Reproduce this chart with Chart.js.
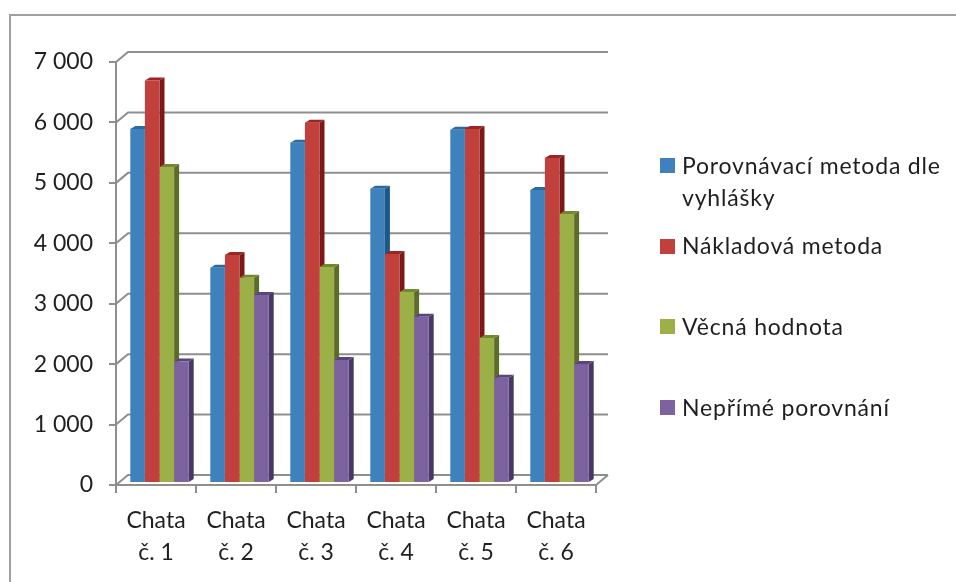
<!DOCTYPE html>
<html>
<head>
<meta charset="utf-8">
<title>Chaty</title>
<script src="https://cdn.jsdelivr.net/npm/chart.js@4/dist/chart.umd.min.js"></script>
<style>
html, body { margin: 0; padding: 0; background: #fff; }
#wrap { position: absolute; left: 0; top: 0; width: 956px; height: 582px; }
</style>
</head>
<body>
<div id="wrap"><canvas id="chart" width="956" height="582"></canvas></div>
<script>
// ---------------- Data ----------------
const categories = [["Chata", "č. 1"], ["Chata", "č. 2"], ["Chata", "č. 3"], ["Chata", "č. 4"], ["Chata", "č. 5"], ["Chata", "č. 6"]];
const porovnavaci = [5860, 3560, 5630, 4870, 5845, 4850];
const nakladova = [6660, 3775, 5960, 3790, 5860, 5380];
const vecna = [5230, 3395, 3575, 3160, 2400, 4450];
const neprime = [2010, 3110, 2035, 2750, 1740, 1970];

const seriesNames = ["Porovnávací metoda dle vyhlášky", "Nákladová metoda", "Věcná hodnota", "Nepřímé porovnání"];
const faceColors = ["#3f81bd", "#c2403c", "#9bb047", "#7d62a0"];
const sideColors = ["#1d5787", "#7b1918", "#5c6c2a", "#493764"];
const topColors = ["#2a6a9e", "#9a2522", "#74882f", "#5a4578"];

// ---------------- 3D look ----------------
const FONT = "Lato, sans-serif";
const TEXT = "#1f1f1f";
const GRID = "#8e8e8e";
const WALL_X = 12, WALL_Y = -10;   // depth of the back wall
const BAR_X = 3.5, BAR_Y = -2;     // bars stand a bit inside the floor
const SIDE_X = 5, SIDE_Y = -3;     // depth of a bar

const legendRows = [
    { swatch: 158, lines: [["Porovnávací metoda dle", 174], ["vyhlášky", 206]] },
    { swatch: 239, lines: [["Nákladová metoda", 254]] },
    { swatch: 319, lines: [["Věcná hodnota", 335]] },
    { swatch: 400, lines: [["Nepřímé porovnání", 416]] }
];

const backdrop = {
    id: "backdrop",
    beforeDraw(chart) {
        const { ctx, width, height } = chart;
        ctx.save();
        ctx.fillStyle = "#fff";
        ctx.fillRect(0, 0, width, height);
        // frame only shows on the top and left
        ctx.strokeStyle = "#a0a0a0";
        ctx.lineWidth = 2;
        ctx.beginPath();
        ctx.moveTo(10, height);
        ctx.lineTo(10, 15);
        ctx.lineTo(width, 15);
        ctx.stroke();
        ctx.restore();
    },
    // back wall lines and floor
    beforeDatasetsDraw(chart) {
        const { ctx, chartArea: a, scales: { y } } = chart;
        ctx.save();
        ctx.strokeStyle = GRID;
        ctx.lineWidth = 2;
        ctx.beginPath();
        y.ticks.forEach(t => {
            const py = y.getPixelForValue(t.value);
            ctx.moveTo(a.left, py);
            ctx.lineTo(a.left + WALL_X, py + WALL_Y);
            ctx.lineTo(a.right + WALL_X, py + WALL_Y);
        });
        ctx.moveTo(a.right, a.bottom);
        ctx.lineTo(a.right + WALL_X, a.bottom + WALL_Y);
        ctx.stroke();
        ctx.restore();

        // bar sides and tops go under the fronts
        ctx.save();
        ctx.translate(BAR_X, BAR_Y);
        chart.data.datasets.forEach((ds, i) => {
            chart.getDatasetMeta(i).data.forEach(bar => {
                const l = bar.x - bar.width / 2, r = bar.x + bar.width / 2;
                ctx.fillStyle = sideColors[i];
                ctx.beginPath();
                ctx.moveTo(r, bar.y);
                ctx.lineTo(r + SIDE_X, bar.y + SIDE_Y);
                ctx.lineTo(r + SIDE_X, bar.base + SIDE_Y);
                ctx.lineTo(r, bar.base);
                ctx.closePath();
                ctx.fill();
                ctx.fillStyle = topColors[i];
                ctx.beginPath();
                ctx.moveTo(l, bar.y);
                ctx.lineTo(l + SIDE_X, bar.y + SIDE_Y);
                ctx.lineTo(r + SIDE_X, bar.y + SIDE_Y);
                ctx.lineTo(r, bar.y);
                ctx.closePath();
                ctx.fill();
            });
        });
    },
    afterDatasetsDraw(chart) {
        chart.ctx.restore();
    },
    afterDraw(chart) {
        const { ctx } = chart;
        ctx.save();
        ctx.font = "23px " + FONT;
        ctx.letterSpacing = "0.8px";
        ctx.textBaseline = "alphabetic";
        legendRows.forEach((row, i) => {
            ctx.fillStyle = faceColors[i];
            ctx.fillRect(660, row.swatch, 15, 15);
            ctx.fillStyle = TEXT;
            row.lines.forEach(([text, base]) => ctx.fillText(text, 682, base));
        });
        ctx.restore();
    }
};

// ---------------- Chart ----------------
new Chart(document.getElementById("chart"), {
    type: "bar",
    data: {
        labels: categories,
        datasets: [porovnavaci, nakladova, vecna, neprime].map((values, i) => ({
            label: seriesNames[i],
            data: values,
            backgroundColor: faceColors[i],
            borderWidth: 0
        }))
    },
    options: {
        responsive: false,
        animation: false,
        devicePixelRatio: 1,
        layout: { padding: { left: 0, top: 62, right: 360, bottom: 0 } },
        datasets: { bar: { barPercentage: 1, categoryPercentage: 0.73 } },
        plugins: { legend: { display: false }, tooltip: { enabled: false } },
        scales: {
            x: {
                grid: { drawOnChartArea: false, color: GRID, lineWidth: 2, tickLength: 8, tickColor: GRID },
                border: { color: GRID, width: 2 },
                ticks: { color: TEXT, font: { family: FONT, size: 23, lineHeight: 1.39 }, padding: 12, maxRotation: 0 },
                afterFit(s) { s.height = 97; }
            },
            y: {
                min: 0,
                max: 7000,
                grid: { drawOnChartArea: false, color: GRID, lineWidth: 2, tickLength: 7, tickColor: GRID },
                border: { color: GRID, width: 2 },
                ticks: {
                    stepSize: 1000,
                    color: TEXT,
                    font: { family: FONT, size: 23 },
                    padding: 16,
                    callback: v => String(v).replace(/\B(?=(\d{3})+$)/g, " ")
                },
                afterFit(s) { s.width = 116; }
            }
        }
    },
    plugins: [backdrop]
});
</script>
</body>
</html>
